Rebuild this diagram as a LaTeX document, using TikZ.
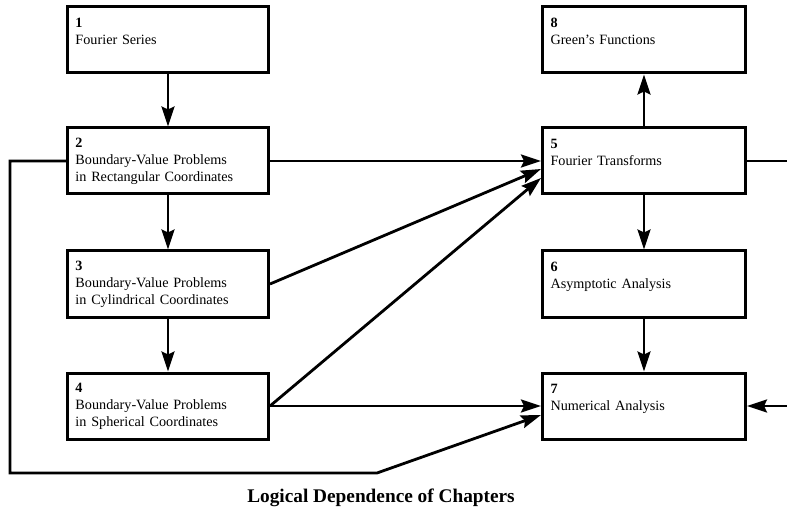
\documentclass[tikz,border=0pt]{standalone}
\usepackage{fontspec}
\setmainfont{Liberation Serif}
\usetikzlibrary{arrows.meta,positioning,calc}

\begin{document}
\begin{tikzpicture}[
  x=1bp, y=-1bp,
  font=\fontsize{14.2bp}{17bp}\selectfont,
  >={Stealth[length=20bp,width=13bp,inset=3bp]},
  chap/.style={draw=black, line width=3bp, align=left, inner xsep=8bp, inner ysep=0pt,
               text width=185bp, minimum height=66bp},
  chapr/.style={chap, text width=187bp},
  rel/.style={->, draw=black, line width=2.8bp},
  caption/.style={font=\fontsize{19.3bp}{22bp}\selectfont\bfseries}
]
\useasboundingbox (0,0) rectangle (787,512);

\node[chap]  (c1) at (168,40)  {\textbf{1}\\ Fourier Series\\ \mbox{}};
\node[chap]  (c2) at (168,161) {\textbf{2}\\ Boundary-Value Problems\\ in Rectangular Coordinates};
\node[chap]  (c3) at (168,284) {\textbf{3}\\ Boundary-Value Problems\\ in Cylindrical Coordinates};
\node[chap]  (c4) at (168,406) {\textbf{4}\\ Boundary-Value Problems\\ in Spherical Coordinates};
\node[chapr] (c8) at (644,40)  {\textbf{8}\\ Green’s Functions\\ \mbox{}};
\node[chapr] (c5) at (644,161) {\textbf{5}\\ Fourier Transforms\\ \mbox{}};
\node[chapr] (c6) at (644,284) {\textbf{6}\\ Asymptotic Analysis\\ \mbox{}};
\node[chapr] (c7) at (644,406) {\textbf{7}\\ Numerical Analysis\\ \mbox{}};

\node[caption] (title) at (381,498) {Logical Dependence of Chapters};

% left column
\draw[rel] (c1) -- (c2);
\draw[rel] (c2) -- (c3);
\draw[rel] (c3) -- (c4);
% right column
\draw[rel] (c5) -- (c8);
\draw[rel] (c5) -- (c6);
\draw[rel] (c6) -- (c7);

% into Fourier transforms
\draw[rel] (c2.east) -- (c5.west);
\draw[rel] (c3.east) -- ($(c5.west)+(0,8)$);
\draw[rel] (c4.east) -- ($(c5.west)+(0,17)$);
\draw[rel] (c4.east) -- (c7.west);

% long way round
\draw[rel] (c2.west) -- (10,161) -- (10,473) -- (377,473) -- ($(c7.west)+(0,9)$);
\draw[rel] (c5.east) -- (805,161) -- (805,406) -- (c7.east);
\end{tikzpicture}
\end{document}
